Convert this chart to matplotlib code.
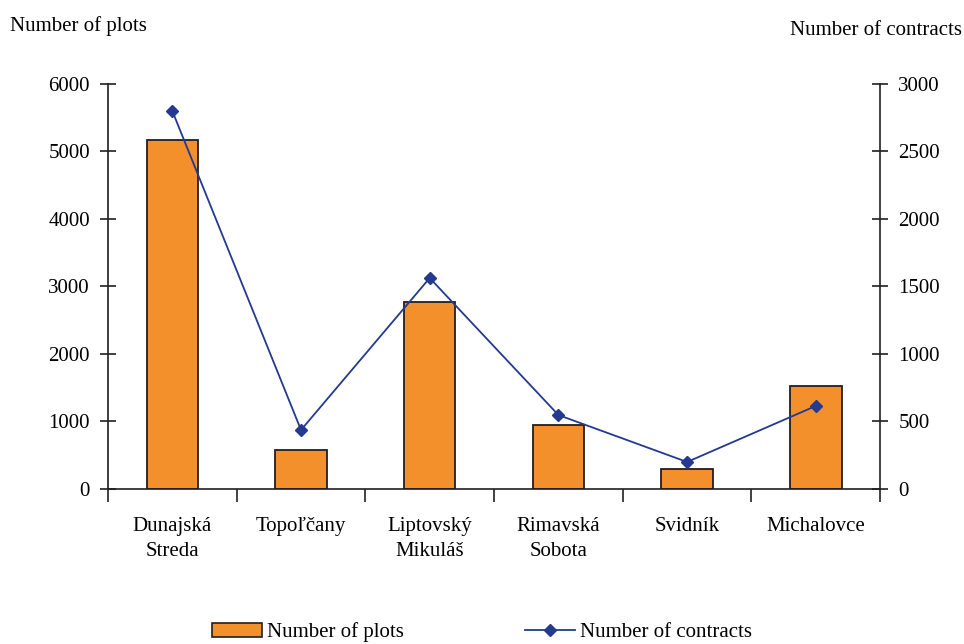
import matplotlib.pyplot as plt
import numpy as np
from matplotlib.lines import Line2D
from matplotlib.patches import Patch

plt.rcParams['font.family'] = ['Liberation Serif', 'DejaVu Serif']

districts = ['Dunajská\nStreda', 'Topoľčany', 'Liptovský\nMikuláš',
             'Rimavská\nSobota', 'Svidník', 'Michalovce']
plots = [5170, 580, 2770, 950, 295, 1525]
contracts = [2800, 437, 1563, 548, 200, 615]

orange = '#F4902C'
navy = '#233A8E'
ink = '#231F20'
fs = 15

fig = plt.figure(figsize=(9.64, 6.44), dpi=100)
ax = fig.add_axes([0.112, 0.2407, 0.801, 0.6289])
ax2 = ax.twinx()

x = np.arange(len(districts))
ax.bar(x, plots, width=0.4, color=orange, edgecolor=ink, linewidth=1.3, zorder=2)
ax2.plot(x, contracts, color=navy, linewidth=1.3, marker='D', markersize=6.5, zorder=3)

ax.set_xlim(-0.5, len(districts) - 0.5)
ax.set_ylim(0, 6000)
ax2.set_ylim(0, 3000)
ax.set_yticks(range(0, 6001, 1000))
ax2.set_yticks(range(0, 3001, 500))

# category boundaries as x ticks, labels in the middle
ax.set_xticks(np.arange(-0.5, len(districts), 1))
ax.set_xticklabels([])
ax.set_xticks(x, minor=True)
ax.set_xticklabels(districts, minor=True, fontsize=fs, linespacing=1.45)
ax.tick_params(axis='x', which='minor', length=0, pad=20)
ax.tick_params(axis='x', which='major', direction='out', length=9, width=1.2, color=ink)

ax.tick_params(axis='y', direction='inout', length=12, width=1.2, labelsize=fs, pad=7, color=ink)
ax2.tick_params(axis='y', direction='inout', length=12, width=1.2, labelsize=fs, pad=7, color=ink)

for a in (ax, ax2):
    a.spines['top'].set_visible(False)
    for s in ('left', 'right', 'bottom'):
        a.spines[s].set_linewidth(1.2)
        a.spines[s].set_color(ink)
ax.spines['right'].set_visible(False)
ax2.spines['left'].set_visible(False)
ax2.spines['bottom'].set_visible(False)

fig.text(0.010, 0.96, 'Number of plots', fontsize=fs, ha='left', va='center')
fig.text(0.998, 0.952, 'Number of contracts', fontsize=fs, ha='right', va='center')

handles = [Patch(facecolor=orange, edgecolor=ink, linewidth=1.2),
           Line2D([], [], color=navy, linewidth=1.3, marker='D', markersize=6)]
fig.legend(handles, ['Number of plots', 'Number of contracts'], loc='center',
           bbox_to_anchor=(0.5, 0.018), ncol=2, frameon=False, fontsize=fs,
           columnspacing=5.8, handlelength=2.4, handleheight=0.7, handletextpad=0.25)

fig.savefig('out.png', dpi=100)
